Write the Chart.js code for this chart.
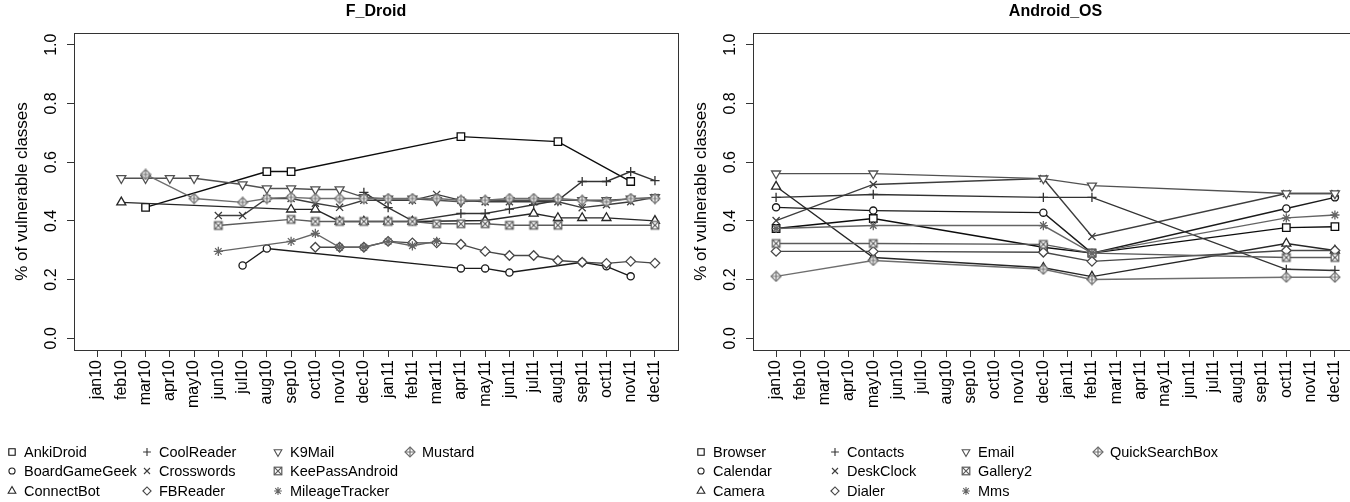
<!DOCTYPE html>
<html>
<head>
<meta charset="utf-8">
<script src="https://cdn.jsdelivr.net/npm/chart.js@4.4.1/dist/chart.umd.min.js"></script>
<style>
html, body { margin: 0; padding: 0; background: #fff; overflow: hidden; width: 1350px; height: 502px; }
#left { position: absolute; left: 0; top: 0; }
#right { position: absolute; left: 690px; top: 0; }
</style>
</head>
<body>
<canvas id="left" width="690" height="502"></canvas>
<canvas id="right" width="680" height="502"></canvas>
<script>
var _ = null;
var months = ['jan10','feb10','mar10','apr10','may10','jun10','jul10','aug10','sep10','oct10','nov10','dec10',
              'jan11','feb11','mar11','apr11','may11','jun11','jul11','aug11','sep11','oct11','nov11','dec11'];
var yTicks = [0, 0.2, 0.4, 0.6, 0.8, 1.0];
var yTitle = '% of vulnerable classes';

// F_Droid apps
var fdroidApps = ['AnkiDroid','BoardGameGeek','ConnectBot','CoolReader','Crosswords','FBReader','K9Mail','KeePassAndroid','MileageTracker','Mustard'];
//                 jan10 feb   mar   apr   may   jun   jul   aug   sep   oct   nov   dec   jan11 feb   mar   apr   may   jun   jul   aug   sep   oct   nov   dec
var ankiDroid     = [_,    _,    .446, _,    _,    _,    _,    .568, .568, _,    _,    _,    _,    _,    _,    .687, _,    _,    _,    .67,  _,    _,    .534, _   ];
var boardGameGeek = [_,    _,    _,    _,    _,    _,    .248, .306, _,    _,    _,    _,    _,    _,    _,    .238, .238, .224, _,    _,    .259, .245, .211, _   ];
var connectBot    = [_,    .463, _,    _,    _,    _,    _,    _,    .439, .439, .398, .398, .398, .398, _,    _,    .401, _,    .425, .41,  .41,  .41,  _,    .40 ];
var coolReader    = [_,    _,    _,    _,    _,    _,    _,    _,    _,    _,    _,    .497, .445, .40,  _,    .425, .425, .44,  .455, .47,  .534, .534, .568, .537];
var crosswords    = [_,    _,    _,    _,    _,    .418, .418, .476, .476, .46,  .446, .47,  .47,  .47,  .49,  .47,  .465, .465, .465, .465, .445, .455, .465, .48 ];
var fbReader      = [_,    _,    _,    _,    _,    _,    _,    _,    _,    .31,  .31,  .31,  .33,  .325, .325, .32,  .296, .282, .282, .265, .259, .255, .262, .256];
var k9Mail        = [_,    .545, .545, .545, .545, _,    .524, .51,  .51,  .507, .507, .48,  .475, .475, .47,  .465, .47,  .47,  .47,  .47,  .47,  .47,  .475, .48 ];
var keePass       = [_,    _,    _,    _,    _,    .384, _,    _,    .405, .398, .398, .398, .398, .398, .39,  .39,  .39,  .385, .385, .385, _,    _,    _,    .385];
var mileage       = [_,    _,    _,    _,    _,    .296, _,    _,    .33,  .357, .31,  .31,  .33,  .315, .33,  _,    _,    _,    _,    _,    _,    _,    _,    _   ];
var mustard       = [_,    _,    .558, _,    .476, _,    .463, .476, .48,  .476, .476, .476, .476, .476, .476, .47,  .47,  .476, .476, .476, .47,  .465, .476, .476];
var fdroidValues = [ankiDroid, boardGameGeek, connectBot, coolReader, crosswords, fbReader, k9Mail, keePass, mileage, mustard];

// Android_OS apps
var osApps = ['Browser','Calendar','Camera','Contacts','DeskClock','Dialer','Email','Gallery2','Mms','QuickSearchBox'];
var browser     = [.374, _, _, _, .408, _, _, _, _, _, _, .31,  _, .29,  _, _, _, _, _, _, _, .377, _, .38 ];
var calendar    = [.446, _, _, _, .435, _, _, _, _, _, _, .428, _, .29,  _, _, _, _, _, _, _, .442, _, .48 ];
var camera      = [.517, _, _, _, .275, _, _, _, _, _, _, .24,  _, .21,  _, _, _, _, _, _, _, .323, _, .299];
var contacts    = [.48,  _, _, _, .49,  _, _, _, _, _, _, .48,  _, .48,  _, _, _, _, _, _, _, .235, _, .231];
var deskClock   = [.401, _, _, _, .524, _, _, _, _, _, _, .544, _, .347, _, _, _, _, _, _, _, .493, _, .493];
var dialer      = [.296, _, _, _, .296, _, _, _, _, _, _, .293, _, .262, _, _, _, _, _, _, _, .299, _, .299];
var email       = [.561, _, _, _, .561, _, _, _, _, _, _, .544, _, .52,  _, _, _, _, _, _, _, .493, _, .493];
var gallery2    = [.323, _, _, _, .323, _, _, _, _, _, _, .32,  _, .29,  _, _, _, _, _, _, _, .275, _, .275];
var mms         = [.374, _, _, _, .384, _, _, _, _, _, _, .384, _, .29,  _, _, _, _, _, _, _, .41,  _, .42 ];
var quickSearch = [.211, _, _, _, .265, _, _, _, _, _, _, .235, _, .20,  _, _, _, _, _, _, _, .208, _, .208];
var osValues = [browser, calendar, camera, contacts, deskClock, dialer, email, gallery2, mms, quickSearch];

var grays = ['#0c0c0c','#1a1a1a','#262626','#323232','#3d3d3d','#474747','#515151','#5b5b5b','#646464','#6e6e6e'];
var FONT = '"Liberation Sans", Arial, Helvetica, sans-serif';

// R pch 0..9
var pch = [
  {style: 'rect', r: 5.3},
  {style: 'circle', r: 3.6},
  {style: 'triangle', r: 5.2},
  {style: 'cross', r: 4.6},
  {style: 'crossRot', r: 5},
  {style: 'rectRot', r: 4.8},
  {style: 'triangle', r: 5.2, rot: 180},
  {img: 'boxX', r: 5},
  {style: 'star', r: 4.6},
  {img: 'diamondPlus', r: 5}
];

function symbolImage(kind, color) {
  var c = document.createElement('canvas');
  c.width = 12; c.height = 12;
  var g = c.getContext('2d');
  g.strokeStyle = color; g.fillStyle = '#fff'; g.lineWidth = 1.2;
  if (kind === 'boxX') {
    g.fillRect(2.2, 2.2, 7.6, 7.6);
    g.strokeRect(2.2, 2.2, 7.6, 7.6);
    g.beginPath();
    g.moveTo(2.2, 2.2); g.lineTo(9.8, 9.8);
    g.moveTo(9.8, 2.2); g.lineTo(2.2, 9.8);
    g.stroke();
  } else {
    g.beginPath();
    g.moveTo(6, 1); g.lineTo(11, 6); g.lineTo(6, 11); g.lineTo(1, 6); g.closePath();
    g.fill(); g.stroke();
    g.beginPath();
    g.moveTo(6, 1); g.lineTo(6, 11); g.moveTo(1, 6); g.lineTo(11, 6);
    g.stroke();
  }
  return c;
}

function makeDatasets(names, values) {
  return names.map(function(name, i) {
    var col = grays[i], p = pch[i];
    return {
      label: name,
      data: values[i].map(function(v, k) { return v === null ? null : {x: k, y: v}; })
                     .filter(function(d) { return d !== null; }),
      borderColor: col,
      borderWidth: 1.4,
      pointStyle: p.img ? symbolImage(p.img, col) : p.style,
      pointRadius: p.r,
      pointRotation: p.rot || 0,
      pointBorderColor: col,
      pointBackgroundColor: '#fff',
      pointBorderWidth: 1.3,
      tension: 0,
      fill: false,
      order: names.length - i
    };
  });
}

function framePlugin(title, legendSym) {
  var rows = [452, 471, 491];
  return {
    id: 'frame',
    afterDraw: function(chart) {
      var ctx = chart.ctx, a = chart.chartArea, ys = chart.scales.y;
      ctx.save();
      ctx.strokeStyle = '#333';
      ctx.lineWidth = 1;
      ctx.strokeRect(Math.round(a.left) + 0.5, Math.round(a.top) + 0.5,
                     Math.round(a.right - a.left), Math.round(a.bottom - a.top));

      ctx.fillStyle = '#000';
      ctx.font = 'bold 16px ' + FONT;
      ctx.textAlign = 'center';
      ctx.textBaseline = 'middle';
      ctx.fillText(title, (a.left + a.right) / 2, 12);

      // y tick labels, parallel to the axis like R
      ctx.font = '16px ' + FONT;
      ctx.textBaseline = 'alphabetic';
      yTicks.forEach(function(v) {
        ctx.save();
        ctx.translate(a.left - 18, ys.getPixelForValue(v));
        ctx.rotate(-Math.PI / 2);
        ctx.fillText(v.toFixed(1), 0, 0);
        ctx.restore();
      });
      ctx.font = '17px ' + FONT;
      ctx.save();
      ctx.translate(a.left - 47, (a.top + a.bottom) / 2);
      ctx.rotate(-Math.PI / 2);
      ctx.fillText(yTitle, 0, 0);
      ctx.restore();

      // legend, 3 rows, filled column by column
      ctx.font = '14.5px ' + FONT;
      ctx.textAlign = 'left';
      ctx.textBaseline = 'middle';
      chart.data.datasets.forEach(function(ds, i) {
        var c = Math.floor(i / 3), y = rows[i % 3];
        ctx.strokeStyle = ds.borderColor;
        ctx.fillStyle = '#fff';
        ctx.lineWidth = 1.1;
        Chart.helpers.drawPoint(ctx, {
          pointStyle: ds.pointStyle,
          radius: ds.pointRadius * 0.85,
          rotation: ds.pointRotation,
          borderWidth: 1.1
        }, legendSym[c], y);
        ctx.fillStyle = '#000';
        ctx.fillText(ds.label, legendSym[c] + 12, y + 1);
      });
      ctx.restore();
    }
  };
}

function makeChart(id, title, names, values, yWidth, legendSym) {
  return new Chart(document.getElementById(id), {
    type: 'line',
    data: { datasets: makeDatasets(names, values) },
    options: {
      responsive: false,
      animation: false,
      events: [],
      layout: { padding: { top: 33, right: 12, bottom: 90, left: 0 } },
      plugins: { legend: { display: false }, title: { display: false }, tooltip: { enabled: false } },
      scales: {
        x: {
          type: 'linear',
          min: -0.95,
          max: 23.95,
          afterBuildTicks: function(s) { s.ticks = months.map(function(m, i) { return {value: i}; }); },
          afterFit: function(s) { s.height = 62; },
          ticks: {
            autoSkip: false,
            minRotation: 90,
            maxRotation: 90,
            padding: 3,
            color: '#000',
            font: { family: FONT, size: 16 },
            callback: function(v) { return months[v]; }
          },
          grid: { drawOnChartArea: false, tickLength: 7, color: '#333' },
          border: { display: false }
        },
        y: {
          min: -0.04,
          max: 1.04,
          afterBuildTicks: function(s) { s.ticks = yTicks.map(function(v) { return {value: v}; }); },
          afterFit: function(s) { s.width = yWidth; },
          ticks: { display: false },
          grid: { drawOnChartArea: false, tickLength: 7, color: '#333' },
          border: { display: false }
        }
      }
    },
    plugins: [framePlugin(title, legendSym)]
  });
}

makeChart('left', 'F_Droid', fdroidApps, fdroidValues, 74, [12, 147, 278, 410]);
makeChart('right', 'Android_OS', osApps, osValues, 63, [11, 145, 276, 408]);
</script>
</body>
</html>
